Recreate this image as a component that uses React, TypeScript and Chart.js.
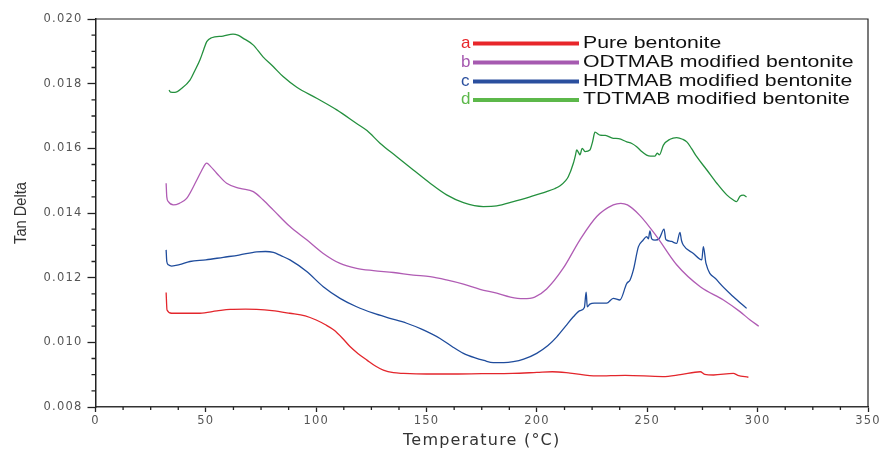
import React, { useEffect, useRef } from "react";
import { Chart, registerables } from "chart.js";

Chart.register(...registerables);

// ---- data ----
const seriesLetters = ["a", "b", "c", "d"];
const seriesNames = [
  "Pure bentonite",
  "ODTMAB modified bentonite",
  "HDTMAB modified bentonite",
  "TDTMAB modified bentonite",
];
const lineColors = ["#e3262c", "#b05cb4", "#1f4c9c", "#24903e"];
const legendColors = ["#e8262a", "#a65ab0", "#2a4f9e", "#5cb84a"];
const xTitle = "Temperature (°C)";
const yTitle = "Tan Delta";

const xTickStep = 50;
const yTickStep = 0.002;

// Pure bentonite (a): [temperature °C, tan delta]
const seriesA: [number, number][] = [
  [32, 0.01154], [32.4, 0.011], [34.5, 0.0109], [40, 0.0109], [47.3, 0.0109],
  [55, 0.01097], [61, 0.01102], [68, 0.01103], [73, 0.01102], [80, 0.01098],
  [88, 0.0109], [95, 0.01082], [100, 0.01069], [104, 0.01055], [108, 0.01038],
  [112, 0.01012], [115.3, 0.00987], [119, 0.00965], [123, 0.00945], [127, 0.00926],
  [130.4, 0.00914], [135, 0.00906], [139.5, 0.00904], [150, 0.00902], [160, 0.00902],
  [175, 0.00903], [189, 0.00904], [200, 0.00907], [207, 0.00909], [215, 0.00905],
  [227, 0.00896], [240, 0.00898], [257, 0.00894], [265, 0.009], [274, 0.00909],
  [276, 0.00901], [280, 0.00899], [289, 0.00904], [291, 0.00898], [295.8, 0.00892],
];

// ODTMAB modified bentonite (b)
const seriesB: [number, number][] = [
  [32, 0.01492], [32.3, 0.0145], [33, 0.01435], [35.3, 0.01425], [38, 0.0143],
  [41.3, 0.01445], [45.9, 0.01502], [48, 0.0153], [50.4, 0.01554], [52, 0.01545],
  [54.9, 0.01523], [59.4, 0.01492], [65.5, 0.01476], [71.5, 0.01466], [76, 0.0144],
  [80.6, 0.01409], [88.1, 0.01358], [95.7, 0.01317], [103.2, 0.01275], [110.8, 0.01244],
  [118.3, 0.01229], [125.9, 0.01222], [135, 0.01216], [144, 0.01208], [151.6, 0.01203],
  [159, 0.01193], [166.7, 0.0118], [174.2, 0.01164], [181.8, 0.01152], [188, 0.0114],
  [193.8, 0.01135], [199, 0.0114], [204.4, 0.01165], [212, 0.0123], [219.5, 0.01317],
  [227.1, 0.01389], [234.6, 0.01425], [238, 0.0143], [241, 0.01425], [246.7, 0.01392],
  [254.3, 0.01327], [263.3, 0.0124], [274, 0.01172], [284.5, 0.01131], [292, 0.01095],
  [296.6, 0.01069], [300.5, 0.0105],
];

// HDTMAB modified bentonite (c)
const seriesC: [number, number][] = [
  [32, 0.01286], [32.3, 0.0125], [33, 0.0124], [34.5, 0.01236], [38, 0.0124],
  [42.8, 0.0125], [50, 0.01255], [57.9, 0.01263], [65, 0.0127], [73, 0.0128],
  [77, 0.01281], [80.6, 0.01278], [84, 0.01268], [88.1, 0.01255], [95.7, 0.01219],
  [103.2, 0.01172], [110.8, 0.01136], [118.3, 0.0111], [125.9, 0.0109], [133, 0.01075],
  [141, 0.01059], [148, 0.0104], [156.1, 0.01012], [162, 0.00985], [166.7, 0.00966],
  [172, 0.00952], [176, 0.00944], [180.2, 0.00937], [185, 0.00937], [189.3, 0.0094],
  [194, 0.00948], [199.9, 0.00966], [205, 0.0099], [209, 0.01017], [213, 0.0105],
  [216.5, 0.01079], [219.5, 0.01098], [221.5, 0.01108], [222.3, 0.01155], [222.8, 0.0111],
  [224, 0.01118], [226, 0.01121], [231.6, 0.01121], [234.6, 0.01136], [237.6, 0.01131],
  [240.7, 0.01182], [242.2, 0.01193], [243.7, 0.01224], [246, 0.01296], [248, 0.01315],
  [249.7, 0.01327], [250.5, 0.0132], [251.2, 0.01345], [252, 0.0132], [253.5, 0.01316],
  [255.5, 0.01322], [257.6, 0.0135], [258.3, 0.0132], [258.8, 0.01316], [261, 0.01312],
  [263.3, 0.01306], [264.8, 0.0134], [265.5, 0.01315], [266.3, 0.01301], [270.9, 0.01275],
  [274.7, 0.01255], [275.4, 0.01296], [276.6, 0.01244], [281.5, 0.01193], [289, 0.01141],
  [295, 0.01105],
];

// TDTMAB modified bentonite (d)
const seriesD: [number, number][] = [
  [33.3, 0.0178], [34, 0.01774], [36, 0.01773], [39, 0.01785], [42.8, 0.01811],
  [45, 0.0184], [47.3, 0.01873], [49, 0.01905], [50.4, 0.0193], [52.6, 0.01942],
  [57.8, 0.01947], [62.3, 0.01953], [64.5, 0.0195], [66.8, 0.01941], [71.4, 0.0192],
  [75.9, 0.01883], [80.5, 0.01853], [85, 0.01822], [91.2, 0.01789], [100.2, 0.01755],
  [109.3, 0.01719], [118.3, 0.01677], [123, 0.01655], [128.9, 0.01616], [136.5, 0.01574],
  [144, 0.01533], [151.6, 0.01492], [159.1, 0.01456], [166.7, 0.01432], [175.7, 0.0142],
  [181.8, 0.01422], [189.3, 0.01435], [196.9, 0.0145], [204.4, 0.01466], [208, 0.01475],
  [210.5, 0.01484], [213, 0.015], [214.2, 0.01512], [216.5, 0.01554], [217.5, 0.0158],
  [218, 0.01595], [219, 0.01585], [219.5, 0.0158], [220.5, 0.016], [221.8, 0.0159],
  [224, 0.01595], [225.2, 0.0162], [226.3, 0.0165], [228.6, 0.01641], [231, 0.0164],
  [234.6, 0.01631], [237, 0.0163], [240.7, 0.0162], [243, 0.01615], [245.2, 0.01605],
  [247.5, 0.0159], [249.7, 0.01579], [251.5, 0.01576], [253.5, 0.01576], [254.5, 0.01585],
  [255.5, 0.0158], [257.3, 0.0161], [260.3, 0.01628], [263.3, 0.01633], [266, 0.01628],
  [267.9, 0.0162], [270, 0.016], [272.4, 0.01574], [277, 0.01533], [281.5, 0.01492],
  [286, 0.01456], [289, 0.0144], [290.5, 0.01435], [292, 0.01452], [293.5, 0.01455],
  [295, 0.0145],
];

const allSeries = [seriesA, seriesB, seriesC, seriesD];

// ---- plugins ----
const spacingPlugin = {
  id: "spacing",
  beforeDraw(chart: any) {
    chart.ctx.letterSpacing = "1.2px";
  },
  afterDraw(chart: any) {
    chart.ctx.letterSpacing = "0px";
  },
};

const framePlugin = {
  id: "frame",
  afterDraw(chart: any) {
    const { ctx, chartArea, scales } = chart;
    const { left, right, top, bottom } = chartArea;
    ctx.save();
    ctx.strokeStyle = "#222";
    ctx.lineWidth = 1.2;
    ctx.beginPath();
    ctx.moveTo(left, top);
    ctx.lineTo(right, top);
    ctx.lineTo(right, bottom);
    ctx.stroke();
    // minor ticks
    ctx.lineWidth = 1.3;
    ctx.beginPath();
    for (let v = 0; v <= 350.001; v += 12.5) {
      if (Math.abs(v / 50 - Math.round(v / 50)) < 1e-6) continue;
      const px = scales.x.getPixelForValue(v);
      ctx.moveTo(px, bottom);
      ctx.lineTo(px, bottom + 3);
    }
    for (let v = 0.008; v <= 0.02 + 1e-9; v += 0.0005) {
      const r = v / 0.002;
      if (Math.abs(r - Math.round(r)) < 1e-6) continue;
      const py = scales.y.getPixelForValue(v);
      ctx.moveTo(left, py);
      ctx.lineTo(left - 4, py);
    }
    ctx.stroke();
    // y-axis title (condensed, like the reference)
    ctx.letterSpacing = "0px";
    ctx.save();
    ctx.translate(21, (top + bottom) / 2);
    ctx.rotate(-Math.PI / 2);
    ctx.scale(0.86, 1);
    ctx.font = "17px 'Liberation Sans', Arial, sans-serif";
    ctx.fillStyle = "#333";
    ctx.textAlign = "center";
    ctx.textBaseline = "middle";
    ctx.fillText(yTitle, 0, 0);
    ctx.restore();
    ctx.restore();
  },
};

const legendPlugin = {
  id: "customLegend",
  afterDraw(chart: any) {
    const ctx = chart.ctx;
    ctx.save();
    ctx.letterSpacing = "0px";
    const rowY = [43, 62, 81, 99.5];
    const sx = 1.25;
    for (let i = 0; i < seriesNames.length; i++) {
      const y = rowY[i];
      ctx.font = "17px 'Liberation Sans', Arial, sans-serif";
      ctx.textBaseline = "middle";
      ctx.textAlign = "left";
      ctx.fillStyle = legendColors[i];
      ctx.fillText(seriesLetters[i], 461, y);
      ctx.strokeStyle = legendColors[i];
      ctx.lineWidth = 4;
      ctx.beginPath();
      ctx.moveTo(473, y + 0.5);
      ctx.lineTo(579, y + 0.5);
      ctx.stroke();
      ctx.fillStyle = "#111";
      ctx.save();
      ctx.translate(583, y);
      ctx.scale(sx, 1);
      ctx.fillText(seriesNames[i], 0, 0);
      ctx.restore();
    }
    ctx.restore();
  },
};

export default function App() {
  const ref = useRef<HTMLCanvasElement | null>(null);

  useEffect(() => {
    if (!ref.current) return;
    const chart = new Chart(ref.current, {
      type: "line",
      data: {
        datasets: allSeries.map((s, i) => ({
          label: seriesNames[i],
          data: s.map(([x, y]) => ({ x, y })),
          borderColor: lineColors[i],
          backgroundColor: lineColors[i],
          borderWidth: 1.3,
          pointRadius: 0,
          cubicInterpolationMode: "monotone" as const,
          fill: false,
        })),
      },
      options: {
        animation: false,
        responsive: false,
        devicePixelRatio: 1,
        layout: { padding: { top: 19, right: 14, left: 0, bottom: 0 } },
        plugins: {
          legend: { display: false },
          tooltip: { enabled: false },
        },
        scales: {
          x: {
            type: "linear",
            min: 0,
            max: 350,
            afterFit: (scale: any) => {
              scale.height = 43;
            },
            ticks: {
              stepSize: xTickStep,
              padding: 2,
              color: "#555",
              font: { family: "'DejaVu Sans', sans-serif", size: 11.5 },
              maxRotation: 0,
            },
            grid: {
              drawOnChartArea: false,
              drawTicks: true,
              tickLength: 5,
              tickColor: "#222",
              tickWidth: 1.3,
            },
            border: { display: true, color: "#333", width: 1.5 },
            title: {
              display: true,
              text: xTitle,
              color: "#333",
              font: { family: "'DejaVu Sans', sans-serif", size: 16 },
              padding: { top: 0, bottom: 0 },
            },
          },
          y: {
            type: "linear",
            min: 0.008,
            max: 0.02,
            afterFit: (scale: any) => {
              scale.width = 95.5;
            },
            ticks: {
              stepSize: yTickStep,
              padding: 5,
              color: "#555",
              font: { family: "'DejaVu Sans', sans-serif", size: 11.5 },
              callback: (v: any) => Number(v).toFixed(3),
            },
            grid: {
              drawOnChartArea: false,
              drawTicks: true,
              tickLength: 8,
              tickColor: "#222",
              tickWidth: 1.3,
            },
            border: { display: true, color: "#222", width: 1.5 },
            title: { display: false },
          },
        },
      },
      plugins: [spacingPlugin, framePlugin, legendPlugin],
    });
    return () => chart.destroy();
  }, []);

  return (
    <div style={{ position: "absolute", left: 0, top: 0, width: 882, height: 450, background: "#fff" }}>
      <canvas ref={ref} width={882} height={450} style={{ display: "block" }} />
    </div>
  );
}
